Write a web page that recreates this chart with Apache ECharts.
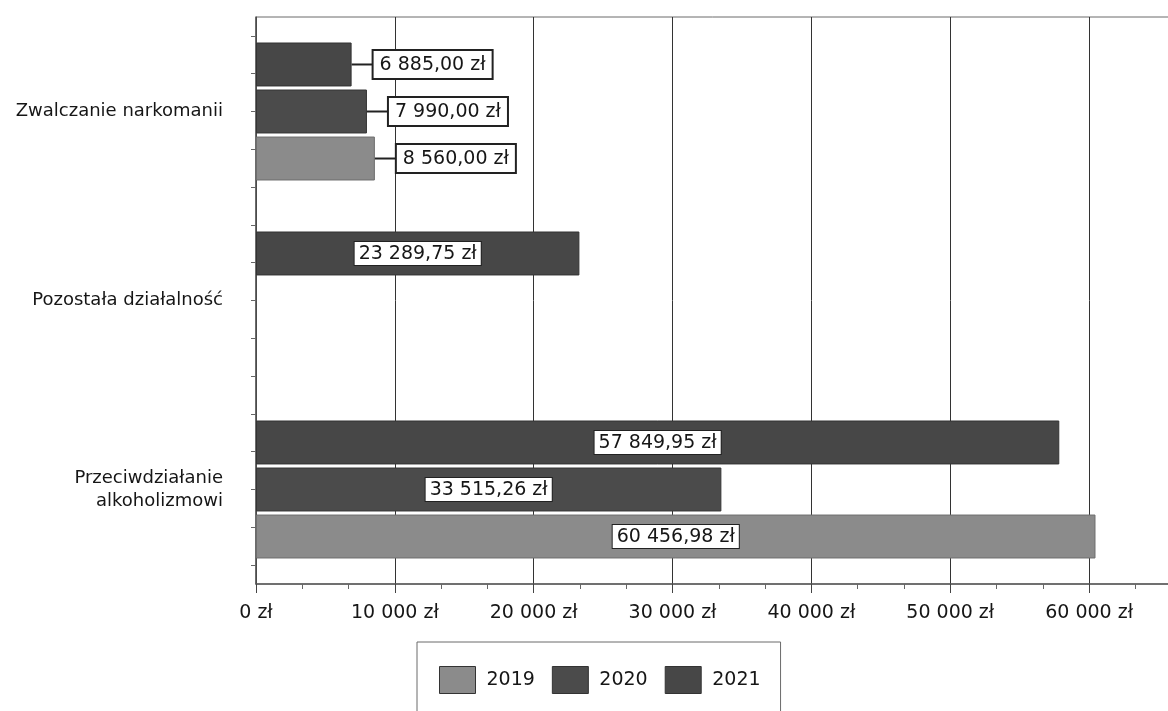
<!DOCTYPE html>
<html><head><meta charset="utf-8">
<script src="https://cdn.jsdelivr.net/npm/echarts@6/dist/echarts.min.js"></script>
<style>html,body{margin:0;padding:0;background:#fff;overflow:hidden}#c{width:1168px;height:711px}</style>
</head><body><div id="c"></div>
<script>
// Categories listed bottom-to-top (ECharts category y axis starts at the bottom)
const categories = ['Przeciwdziałanie\nalkoholizmowi', 'Pozostała działalność', 'Zwalczanie narkomanii'];
const seriesNames = ['2019', '2020', '2021'];
const values2019 = [60456.98, null, 8560.00];
const values2020 = [33515.26, null, 7990.00];
const values2021 = [57849.95, 23289.75, 6885.00];
const xMin = 0, xMax = 70000, xStep = 10000;
const subTicks = ['', '', '', '', '', '', '', '', '', '', '', '', '', '', ''];

const FONT = 'DejaVu Sans';
const colors = { '2019': '#8b8b8b', '2020': '#4b4b4b', '2021': '#474747' };
const borders = { '2019': '#6e6e6e', '2020': '#353535', '2021': '#333333' };

function fmtPL(v, dec) {
  const s = Number(v).toFixed(dec);
  const parts = s.split('.');
  const i = parts[0].replace(/\B(?=(\d{3})+(?!\d))/g, ' ');
  return i + (parts[1] ? ',' + parts[1] : '') + ' zł';
}

function buildData(vals) {
  return vals.map(v => {
    if (v == null) return null;
    if (v < 15000) {
      return {
        value: v,
        label: {
          position: 'right', distance: 0,
          backgroundColor: 'transparent', borderWidth: 0, padding: 0,
          formatter: p => '{l| }{b|' + fmtPL(p.value, 2) + '}'
        }
      };
    }
    return v;
  });
}

const valuesBySeries = { '2019': values2019, '2020': values2020, '2021': values2021 };

// ECharts places the first series at the top in horizontal bars: order 2021, 2020, 2019
const series = ['2021', '2020', '2019'].map(name => ({
  name, type: 'bar', yAxisIndex: 0,
  data: buildData(valuesBySeries[name]),
  barCategoryGap: '27%', barGap: '7%',
  itemStyle: { color: colors[name], borderColor: borders[name], borderWidth: 1 },
  label: {
    show: true, position: 'inside',
    formatter: p => fmtPL(p.value, 2),
    fontFamily: FONT, fontSize: 19, color: '#161616',
    backgroundColor: '#fff', borderColor: '#222', borderWidth: 1,
    padding: [3, 4, 1, 4],
    rich: {
      l: { width: 22, height: 2, backgroundColor: '#222', fontSize: 2, lineHeight: 2 },
      b: { fontFamily: FONT, fontSize: 19, color: '#161616', backgroundColor: '#fff',
           borderColor: '#222', borderWidth: 2, padding: [5, 6, 3, 6] }
    }
  },
  emphasis: { disabled: true }
}));

const chart = echarts.init(document.getElementById('c'), null, { renderer: 'canvas' });
chart.setOption({
  animation: false,
  backgroundColor: '#fff',
  grid: { left: 256, width: 972, top: 17, bottom: 127, show: true, borderColor: '#6a6a6a', borderWidth: 1,
          containLabel: false, outerBoundsMode: 'none' },
  legend: {
    data: seriesNames, left: 417, top: 642, orient: 'horizontal',
    icon: 'rect', itemWidth: 36, itemHeight: 27, itemGap: 17,
    padding: [24, 20, 24, 22], borderColor: '#6a6a6a', borderWidth: 1,
    textStyle: { fontFamily: FONT, fontSize: 19, color: '#161616', padding: [0, 0, 0, 6] },
    itemStyle: { borderColor: '#333', borderWidth: 1 }
  },
  xAxis: {
    type: 'value', min: xMin, max: xMax, interval: xStep,
    axisLine: { show: true, lineStyle: { color: '#5a5a5a', width: 1.5 } },
    axisTick: { show: true, length: 9, lineStyle: { color: '#444' } },
    minorTick: { show: true, splitNumber: 3, length: 5, lineStyle: { color: '#666' } },
    splitLine: { show: true, lineStyle: { color: '#333', width: 1 } },
    axisLabel: { fontFamily: FONT, fontSize: 19, color: '#161616', margin: 20,
                 formatter: v => fmtPL(v, 0) }
  },
  yAxis: [{
    type: 'category', data: categories,
    axisLine: { show: true, lineStyle: { color: '#555', width: 1.5 } },
    axisTick: { show: false },
    axisLabel: { fontFamily: FONT, fontSize: 18, color: '#161616', margin: 33, lineHeight: 23, align: 'right' },
    splitLine: { show: false }
  }, {
    type: 'category', data: subTicks, position: 'left', boundaryGap: true,
    axisLine: { show: false },
    axisTick: { show: true, alignWithLabel: true, length: 5, lineStyle: { color: '#666' } },
    axisLabel: { show: false },
    splitLine: { show: false }
  }],
  series
});
</script>
</body></html>
